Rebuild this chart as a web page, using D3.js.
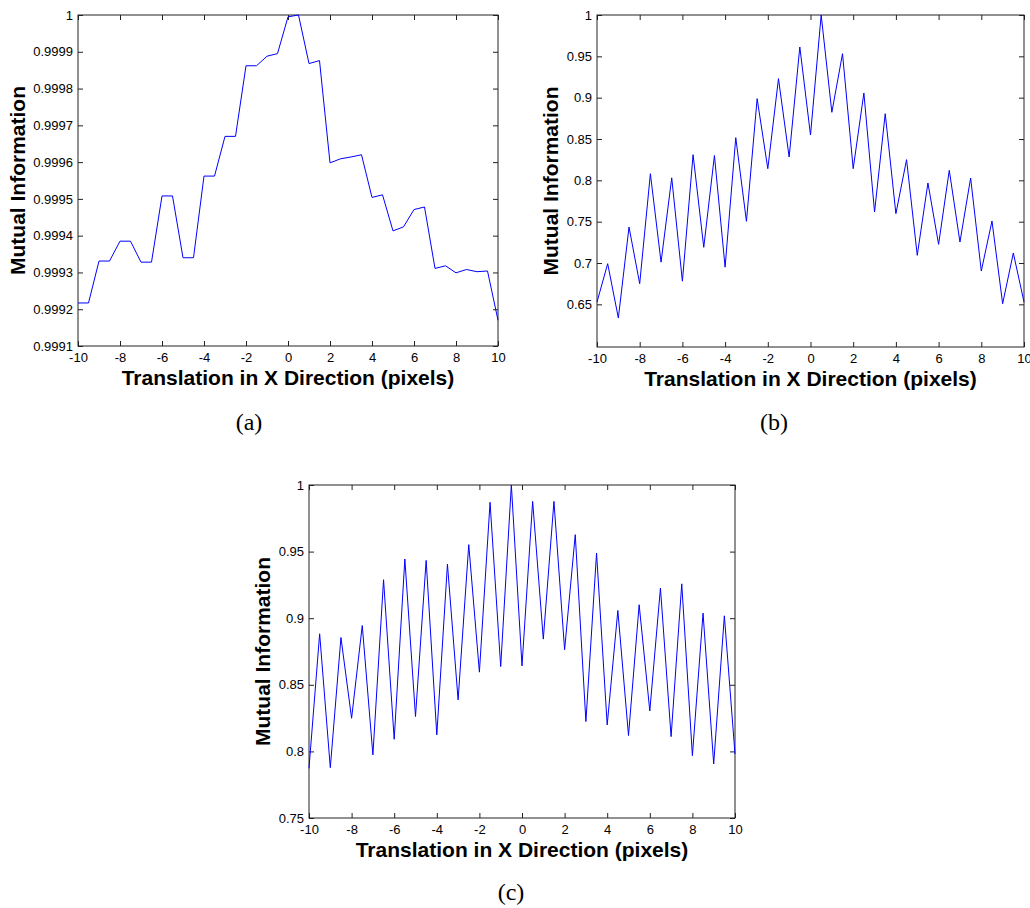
<!DOCTYPE html>
<html>
<head>
<meta charset="utf-8">
<script src="https://cdn.jsdelivr.net/npm/d3@7"></script>
<style>
    body { margin: 0; background: white; }
    svg { display: block; }
    .tick text { font-family: "Liberation Sans", Arial, sans-serif; font-size: 13px; fill: black; }
    .axlabel { font-family: "Liberation Sans", Arial, sans-serif; font-weight: bold; font-size: 21px; fill: black; }
    .caption { font-family: "Liberation Serif", "Times New Roman", serif; font-size: 24px; fill: black; }
</style>
</head>
<body>
<script>
// Data: translation in pixels, step 0.5
var shifts = d3.range(-10, 10.001, 0.5);

var miA = [
    0.999217, 0.999217, 0.999331, 0.999331, 0.999385, 0.999385, 0.999328, 0.999328,
    0.999508, 0.999508, 0.999340, 0.999340, 0.999562, 0.999562, 0.999670, 0.999670,
    0.999862, 0.999862, 0.999888, 0.999895, 0.999995, 1.000000, 0.999868, 0.999876,
    0.999598, 0.999609, 0.999614, 0.999620, 0.999504, 0.999511, 0.999413, 0.999424,
    0.999471, 0.999478, 0.999311, 0.999318, 0.999299, 0.999308, 0.999302, 0.999304,
    0.999170
];

var miB = [
    0.6528, 0.6992, 0.6335, 0.7435, 0.6750, 0.8080, 0.7010, 0.8030,
    0.6780, 0.8310, 0.7190, 0.8300, 0.6950, 0.8516, 0.7504, 0.8988,
    0.8141, 0.9230, 0.8282, 0.9613, 0.8548, 1.0000, 0.8823, 0.9532,
    0.8141, 0.9056, 0.7617, 0.8806, 0.7597, 0.8250, 0.7093, 0.7968,
    0.7226, 0.8121, 0.7254, 0.8028, 0.6903, 0.7508, 0.6508, 0.7121,
    0.6528
];

var miC = [
    0.7873, 0.8883, 0.7878, 0.8855, 0.8249, 0.8945, 0.7974, 0.9289,
    0.8091, 0.9444, 0.8262, 0.9434, 0.8124, 0.9406, 0.8387, 0.9552,
    0.8595, 0.9870, 0.8637, 1.0000, 0.8642, 0.9877, 0.8843, 0.9877,
    0.8763, 0.9627, 0.8224, 0.9489, 0.8199, 0.9058, 0.8119, 0.9101,
    0.8304, 0.9226, 0.8111, 0.9258, 0.7968, 0.9038, 0.7906, 0.9018,
    0.7980
];

var xTicks = [-10, -8, -6, -4, -2, 0, 2, 4, 6, 8, 10];
var xLabels = ["-10", "-8", "-6", "-4", "-2", "0", "2", "4", "6", "8", "10"];
var yTicksA = [0.9991, 0.9992, 0.9993, 0.9994, 0.9995, 0.9996, 0.9997, 0.9998, 0.9999, 1];
var yTicksB = [0.65, 0.7, 0.75, 0.8, 0.85, 0.9, 0.95, 1];
var yTicksC = [0.75, 0.8, 0.85, 0.9, 0.95, 1];

var yLabelsA = ["0.9991", "0.9992", "0.9993", "0.9994", "0.9995", "0.9996", "0.9997", "0.9998", "0.9999", "1"];
var yLabelsB = ["0.65", "0.7", "0.75", "0.8", "0.85", "0.9", "0.95", "1"];
var yLabelsC = ["0.75", "0.8", "0.85", "0.9", "0.95", "1"];

var captions = ["(a)", "(b)", "(c)"];

var svg = d3.select("body")
    .append("svg")
    .attr("width", 1030)
    .attr("height", 908);

var TICK = 5;

var drawPanel = function(cfg) {
    var g = svg.append("g");
    var x = d3.scaleLinear().domain([-10, 10]).range([cfg.left, cfg.right]);
    var y = d3.scaleLinear().domain(cfg.yDomain).range([cfg.bottom, cfg.top]);

    // bottom axis with labels, ticks pointing inward
    g.append("g")
        .attr("transform", "translate(0," + cfg.bottom + ")")
        .call(d3.axisBottom(x).tickValues(xTicks).tickSizeInner(-TICK).tickSizeOuter(0).tickPadding(7)
            .tickFormat(function(d, i) { return xLabels[i]; }))
        .call(function(a) { a.select(".domain").remove(); });
    // top axis ticks only
    g.append("g")
        .attr("transform", "translate(0," + cfg.top + ")")
        .call(d3.axisTop(x).tickValues(xTicks).tickSizeInner(-TICK).tickSizeOuter(0).tickFormat(""))
        .call(function(a) { a.select(".domain").remove(); });
    // left axis with labels
    g.append("g")
        .attr("transform", "translate(" + cfg.left + ",0)")
        .call(d3.axisLeft(y).tickValues(cfg.yTicks).tickSizeInner(-TICK).tickSizeOuter(0).tickPadding(5)
            .tickFormat(function(d, i) { return cfg.yLabels[i]; }))
        .call(function(a) { a.select(".domain").remove(); });
    // right axis ticks only
    g.append("g")
        .attr("transform", "translate(" + cfg.right + ",0)")
        .call(d3.axisRight(y).tickValues(cfg.yTicks).tickSizeInner(-TICK).tickSizeOuter(0).tickFormat(""))
        .call(function(a) { a.select(".domain").remove(); });

    g.selectAll(".tick line").attr("stroke", "#222");

    // box
    g.append("rect")
        .attr("x", cfg.left)
        .attr("y", cfg.top)
        .attr("width", cfg.right - cfg.left)
        .attr("height", cfg.bottom - cfg.top)
        .attr("fill", "none")
        .attr("stroke", "#222")
        .attr("stroke-width", 1);

    var line = d3.line()
        .x(function(d, i) { return x(shifts[i]); })
        .y(function(d) { return y(d); });

    g.append("path")
        .datum(cfg.values)
        .attr("d", line)
        .attr("fill", "none")
        .attr("stroke", "#0000ff")
        .attr("stroke-width", 1);

    g.append("text")
        .attr("class", "axlabel")
        .attr("x", (cfg.left + cfg.right) / 2)
        .attr("y", cfg.bottom + 39)
        .attr("text-anchor", "middle")
        .text("Translation in X Direction (pixels)");

    g.append("text")
        .attr("class", "axlabel")
        .attr("transform", "translate(" + cfg.yLabelX + "," + (cfg.top + cfg.bottom) / 2 + ") rotate(-90)")
        .attr("text-anchor", "middle")
        .attr("dy", "0.35em")
        .text("Mutual Information");

    g.append("text")
        .attr("class", "caption")
        .attr("x", cfg.capX)
        .attr("y", cfg.capY)
        .attr("text-anchor", "middle")
        .text(cfg.caption);
};

drawPanel({
    left: 78, right: 498, top: 15, bottom: 346,
    yDomain: [0.9991, 1], yTicks: yTicksA, yLabels: yLabelsA,
    values: miA, yLabelX: 18, capX: 249, capY: 430, caption: captions[0]
});

drawPanel({
    left: 597, right: 1024, top: 15, bottom: 347,
    yDomain: [0.5984, 1], yTicks: yTicksB, yLabels: yLabelsB,
    values: miB, yLabelX: 551, capX: 774, capY: 430, caption: captions[1]
});

drawPanel({
    left: 309, right: 735, top: 485, bottom: 818,
    yDomain: [0.75, 1], yTicks: yTicksC, yLabels: yLabelsC,
    values: miC, yLabelX: 263, capX: 511, capY: 900, caption: captions[2]
});
</script>
</body>
</html>
